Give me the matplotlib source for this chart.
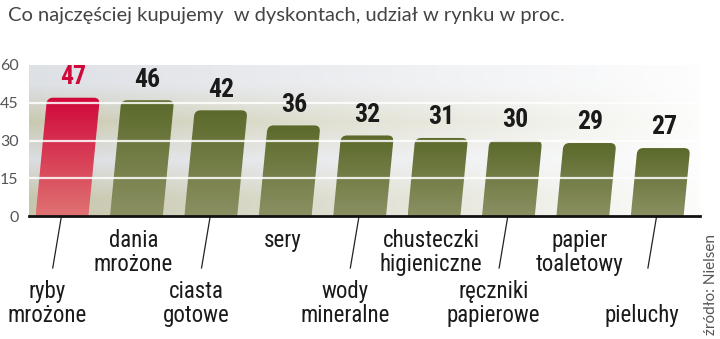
import numpy as np
import matplotlib
matplotlib.use("Agg")
import matplotlib.pyplot as plt
from matplotlib.path import Path
from matplotlib.patches import PathPatch
from matplotlib.colors import LinearSegmentedColormap

# share of purchases made in discount stores, per cent
categories = ["ryby\nmrożone", "dania\nmrożone", "ciasta\ngotowe", "sery",
              "wody\nmineralne", "chusteczki\nhigieniczne", "ręczniki\npapierowe",
              "papier\ntoaletowy", "pieluchy"]
values = [47, 46, 42, 36, 32, 31, 30, 29, 27]
yticks = [0, 15, 30, 45, 60]

title = "Co najczęściej kupujemy  w dyskontach, udział w rynku w proc."
source = "źródło: Nielsen"

LABEL_FONT = ["Roboto Condensed", "Lato", "DejaVu Sans"]
NUM_FONT = ["Roboto Condensed", "Roboto", "DejaVu Sans"]
THIN_FONT = ["Lato", "DejaVu Sans"]

fig = plt.figure(figsize=(7.2, 3.39), dpi=100)
ax = fig.add_axes([29 / 720, 1 - 216 / 339, 671 / 720, 151 / 339])
xmin, xmax = -0.444, 8.575
ax.set_xlim(xmin, xmax)
ax.set_ylim(0, 60)

# background bands fading to white towards the right
band_cols = [(0.78, 0.78, 0.68), (0.86, 0.87, 0.89), (0.79, 0.79, 0.69), (0.87, 0.88, 0.90)]
ncol = 300
img = np.zeros((4, ncol, 4))
alpha = np.linspace(1.0, 0.05, ncol)
for b, c in enumerate(band_cols):
    img[b, :, :3] = c
    img[b, :, 3] = alpha
ax.imshow(img, extent=(xmin, xmax, 0, 60), origin="lower", aspect="auto",
          interpolation="bilinear", zorder=0)

# geometry of the slanted bars
px_x = 671 / (xmax - xmin)
px_y = 151 / 60
slant = 0.0966 * px_y / px_x
width = 0.71
rx, ry = 6 / px_x, 6 / px_y

green = LinearSegmentedColormap.from_list("g", ["#8b9062", "#5b6a2b"])
red = LinearSegmentedColormap.from_list("r", ["#e07272", "#d0083a"])

for i, v in enumerate(values):
    xl = i - width / 2
    xr = i + width / 2
    sh = slant * v
    verts = [(xl, 0), (xr, 0),
             (xr + slant * (v - ry), v - ry), (xr + sh, v), (xr + sh - rx, v),
             (xl + sh + rx, v), (xl + sh, v), (xl + slant * (v - ry), v - ry),
             (xl, 0)]
    codes = [Path.MOVETO, Path.LINETO,
             Path.LINETO, Path.CURVE3, Path.CURVE3,
             Path.LINETO, Path.CURVE3, Path.CURVE3,
             Path.CLOSEPOLY]
    patch = PathPatch(Path(verts, codes), facecolor="none", edgecolor="none", zorder=2)
    ax.add_patch(patch)
    grad = np.linspace(0, 1, 100).reshape(-1, 1)
    im = ax.imshow(grad, cmap=red if i == 0 else green, origin="lower",
                   extent=(xl, xr + sh, 0, v), aspect="auto", zorder=2)
    im.set_clip_path(patch)
    ax.text(i + sh, v + 3.4, str(v), ha="center", va="bottom",
            fontsize=18.5, fontweight="bold", family=NUM_FONT,
            color="#cf0a3a" if i == 0 else "#1a1a1a", zorder=4)

# white grid lines across bands and bars
for t in yticks[1:-1]:
    ax.axhline(t, color="white", lw=1.6, alpha=0.85, zorder=3)

for s in ["top", "right", "left"]:
    ax.spines[s].set_visible(False)
ax.spines["bottom"].set_linewidth(2)
ax.spines["bottom"].set_color("#111111")
ax.spines["bottom"].set_zorder(5)
ax.set_xticks([])
ax.set_yticks(yticks)
ax.tick_params(axis="y", length=0, pad=7.5, labelsize=11.5, labelcolor="#555555")
for lab in ax.get_yticklabels():
    lab.set_family(THIN_FONT)

# category labels, alternating rows with leader lines for the lower row
dy = 1 / px_y
for i, cat in enumerate(categories):
    lines = cat.split("\n")
    if i % 2 == 0:
        ax.plot([i - 0.01, i - 0.125], [-1 * dy, -52 * dy], color="#222222",
                lw=0.9, clip_on=False)
        base = [-82 * dy, -106 * dy]
        xc = i - 0.2
        if len(lines) == 1:
            base = base[1:]
    else:
        base = [-31 * dy, -55 * dy]
        xc = i - 0.04
    for txt, y in zip(lines, base):
        ax.text(xc, y, txt, ha="center", va="baseline", fontsize=16.5,
                family=LABEL_FONT, color="#1a1a1a", clip_on=False)

fig.text(8 / 720, 1 - 21 / 339, title, fontsize=14.5, color="#444444",
         family=THIN_FONT, va="baseline", ha="left")
fig.text(711 / 720, 4 / 339, source, rotation=90, fontsize=11, color="#555555",
         family=THIN_FONT, va="bottom", ha="center")

fig.savefig("out.png", dpi=100)
